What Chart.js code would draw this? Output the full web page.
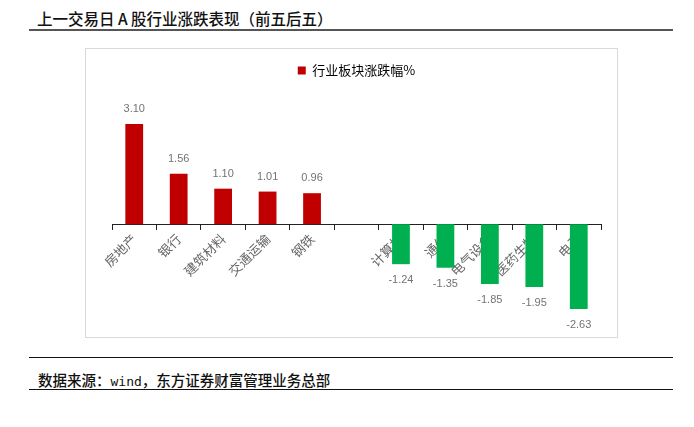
<!DOCTYPE html>
<html>
<head>
<meta charset="utf-8">
<script src="https://cdn.jsdelivr.net/npm/chart.js@4.4.0/dist/chart.umd.min.js"></script>
<style>
body{margin:0;background:#fff;width:694px;height:427px;position:relative;overflow:hidden;font-family:"Noto Sans CJK SC",sans-serif;}
#title{position:absolute;left:37px;top:7px;font-size:15.5px;line-height:22px;font-weight:500;color:#111;white-space:nowrap;}
.rule{position:absolute;left:29px;width:644px;height:1px;background:#111;}
#box{position:absolute;left:85px;top:48px;width:531px;height:288px;border:1px solid #d9d9d9;}
#src{position:absolute;left:38px;top:370px;font-size:14.5px;line-height:20px;font-weight:500;color:#111;white-space:nowrap;}
#src .mono{font-family:"DejaVu Sans Mono",monospace;font-size:13px;}
</style>
</head>
<body>
<div id="title">上一交易日 A 股行业涨跌表现（前五后五）</div>
<div class="rule" style="top:29px;height:2px;background:#555;"></div>
<div id="box"><canvas id="industryChart" width="531" height="288"></canvas></div>
<div class="rule" style="top:357px;"></div>
<div id="src">数据来源：<span class="mono">wind</span>，东方证券财富管理业务总部</div>
<div class="rule" style="top:389px;"></div>
<script>
const seriesName = '行业板块涨跌幅%';
const industries = ['房地产', '银行', '建筑材料', '交通运输', '钢铁', '', '计算机', '通信', '电气设备', '医药生物', '电子'];
const changes = [3.10, 1.56, 1.10, 1.01, 0.96, null, -1.24, -1.35, -1.85, -1.95, -2.63];

const upColor = '#C00000';
const downColor = '#00B050';

// value text above / below each bar
const valueLabels = {
    id: 'valueLabels',
    afterDatasetsDraw(chart) {
        const ctx = chart.ctx;
        const meta = chart.getDatasetMeta(0);
        ctx.save();
        ctx.font = '11px "Liberation Sans", Arial, sans-serif';
        ctx.fillStyle = '#737373';
        ctx.textAlign = 'center';
        ctx.textBaseline = 'middle';
        meta.data.forEach(function(bar, i) {
            let v = changes[i];
            if (v === null) return;
            let y = v >= 0 ? bar.y - 15 : bar.y + 16;
            ctx.fillText(v.toFixed(2), bar.x, y);
        });
        ctx.restore();
    }
};

var industryCanvas = document.getElementById('industryChart').getContext('2d');
var industryChart = new Chart(industryCanvas, {
    type: 'bar',
    data: {
        labels: industries,
        datasets: [{
            label: seriesName,
            data: changes,
            backgroundColor: changes.map(v => v >= 0 ? upColor : downColor),
            barPercentage: 0.4,
            categoryPercentage: 1
        }]
    },
    options: {
        responsive: false,
        animation: false,
        layout: {padding: {left: 26, right: 16, top: 5, bottom: 16}},
        plugins: {
            tooltip: {enabled: false},
            legend: {
                position: 'top',
                labels: {
                    boxWidth: 8,
                    boxHeight: 8,
                    padding: 10,
                    color: '#595959',
                    font: {size: 13, family: '"Noto Sans CJK SC", sans-serif'},
                    generateLabels: function() {
                        return [{text: seriesName, fillStyle: upColor, strokeStyle: upColor, lineWidth: 0, hidden: false, datasetIndex: 0}];
                    }
                }
            }
        },
        scales: {
            x: {
                position: {y: 0},
                z: 1,
                grid: {drawOnChartArea: false, drawTicks: true, tickLength: 5, color: '#222', offset: true},
                border: {display: true, color: '#222', width: 1},
                ticks: {
                    autoSkip: false,
                    minRotation: 45,
                    maxRotation: 45,
                    padding: 2,
                    color: '#666',
                    font: {size: 13, family: '"Noto Sans CJK SC", sans-serif'}
                }
            },
            y: {
                display: false,
                min: -3,
                max: 4.25
            }
        }
    },
    plugins: [valueLabels]
});
</script>
</body>
</html>
